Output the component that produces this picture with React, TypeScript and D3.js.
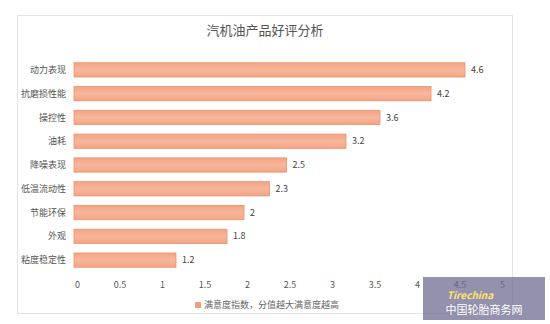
import { useEffect, useRef } from 'react';
import * as d3 from 'd3';

const categories = ['动力表现', '抗磨损性能', '操控性', '油耗', '降噪表现', '低温流动性', '节能环保', '外观', '粘度稳定性'];
const scores = [4.6, 4.2, 3.6, 3.2, 2.5, 2.3, 2, 1.8, 1.2];
const xTicks = [0, 0.5, 1, 1.5, 2, 2.5, 3, 3.5, 4, 4.5, 5];
const title = '汽机油产品好评分析';
const legendLabel = '满意度指数，分值越大满意度越高';

const W = 550;
const H = 324;
const font = '"Noto Sans CJK SC", "Noto Sans", sans-serif';

export default function App() {
  const svgRef = useRef<SVGSVGElement>(null);

  useEffect(() => {
    if (!svgRef.current) return;
    const svg = d3.select(svgRef.current);
    svg.selectAll('*').remove();

    // outer frame
    svg.append('rect')
      .attr('x', 17.5).attr('y', 15.5)
      .attr('width', 495).attr('height', 298)
      .attr('fill', '#fff')
      .attr('stroke', '#e3e3e3');

    svg.append('text')
      .attr('x', 265).attr('y', 35)
      .attr('text-anchor', 'middle')
      .style('font-family', font)
      .style('font-size', '13px')
      .style('fill', '#555')
      .text(title);

    const x = d3.scaleLinear().domain([0, 5]).range([74, 499]);
    const y = d3.scaleBand<string>()
      .domain(categories)
      .range([58, 272])
      .paddingInner(0.4)
      .paddingOuter(0.2);

    const defs = svg.append('defs');
    const grad = defs.append('linearGradient')
      .attr('id', 'barGrad')
      .attr('x1', 0).attr('y1', 0).attr('x2', 0).attr('y2', 1);
    grad.append('stop').attr('offset', '0%').attr('stop-color', '#f3a484');
    grad.append('stop').attr('offset', '50%').attr('stop-color', '#f7b79c');
    grad.append('stop').attr('offset', '100%').attr('stop-color', '#f3a484');

    const g = svg.append('g');

    g.selectAll('rect.bar')
      .data(categories)
      .join('rect')
      .attr('class', 'bar')
      .attr('x', x(0))
      .attr('y', (d) => y(d)!)
      .attr('width', (_d, i) => x(scores[i]) - x(0))
      .attr('height', y.bandwidth())
      .attr('fill', 'url(#barGrad)')
      .attr('stroke', '#ee9068')
      .attr('stroke-width', 0.8);

    g.selectAll('text.val')
      .data(categories)
      .join('text')
      .attr('class', 'val')
      .attr('x', (_d, i) => x(scores[i]) + 6)
      .attr('y', (d) => y(d)! + y.bandwidth() / 2)
      .attr('dy', '0.35em')
      .style('font-family', font)
      .style('font-size', '9px')
      .style('fill', '#444')
      .text((_d, i) => String(scores[i]));

    g.selectAll('text.cat')
      .data(categories)
      .join('text')
      .attr('class', 'cat')
      .attr('x', 66)
      .attr('y', (d) => y(d)! + y.bandwidth() / 2)
      .attr('dy', '0.35em')
      .attr('text-anchor', 'end')
      .style('font-family', font)
      .style('font-size', '9px')
      .style('fill', '#555')
      .text((d) => d);

    const axis = d3.axisBottom(x).tickValues(xTicks).tickSize(0).tickPadding(0)
      .tickFormat((d) => String(d));
    const ax = svg.append('g').attr('transform', 'translate(3,282)').call(axis);
    ax.select('.domain').remove();
    ax.selectAll('text')
      .style('font-family', font)
      .style('font-size', '9px')
      .style('fill', '#555');

    // legend
    svg.append('rect')
      .attr('x', 195).attr('y', 302)
      .attr('width', 6).attr('height', 6)
      .attr('fill', '#f2a07c');
    svg.append('text')
      .attr('x', 204).attr('y', 305)
      .attr('dy', '0.35em')
      .style('font-family', font)
      .style('font-size', '9px')
      .style('fill', '#666')
      .text(legendLabel);

    // watermark box
    svg.append('rect')
      .attr('x', 423).attr('y', 277)
      .attr('width', 122).attr('height', 43)
      .attr('fill', '#6f6c92')
      .attr('opacity', 0.75);
    svg.append('text')
      .attr('x', 470).attr('y', 299)
      .attr('text-anchor', 'middle')
      .style('font-family', font)
      .style('font-size', '10px')
      .style('font-style', 'italic')
      .style('font-weight', 'bold')
      .style('fill', '#ffe36a')
      .text('Tirechina');
    svg.append('text')
      .attr('x', 484).attr('y', 314)
      .attr('text-anchor', 'middle')
      .style('font-family', font)
      .style('font-size', '11px')
      .style('fill', '#fff')
      .text('中国轮胎商务网');
  }, []);

  return (
    <svg ref={svgRef} width={W} height={H} style={{ position: 'absolute', left: 0, top: 0, background: '#fff' }} />
  );
}
